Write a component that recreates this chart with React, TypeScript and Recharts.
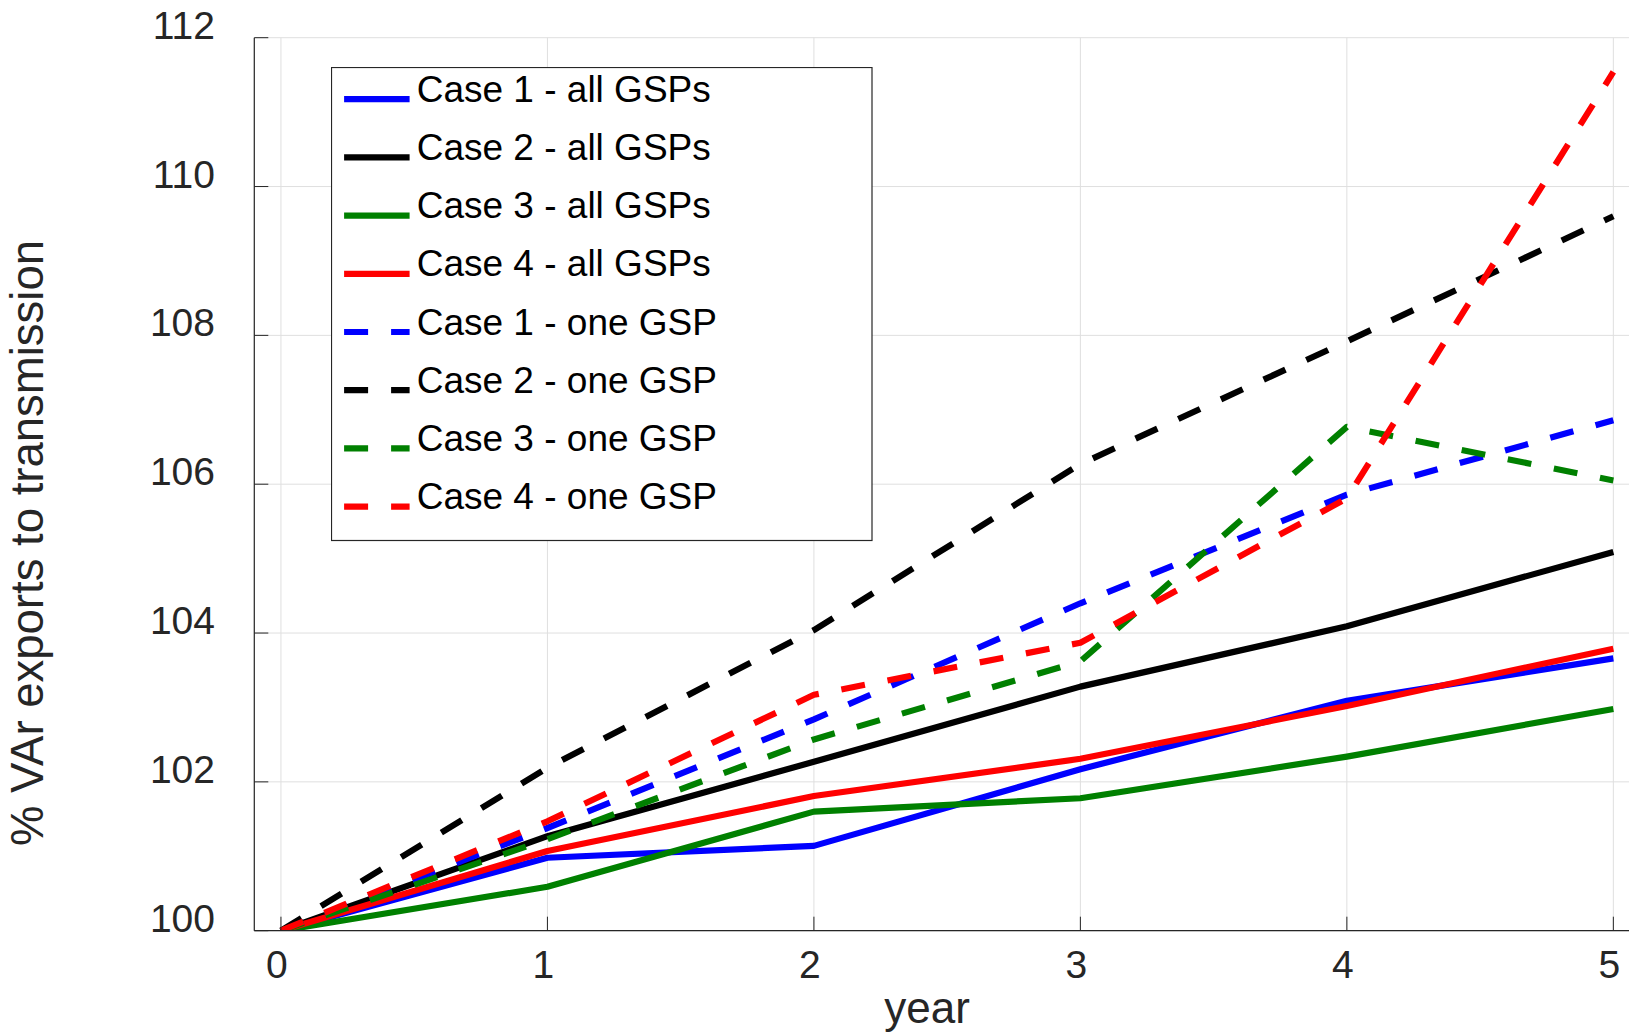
import React from 'react';
import { LineChart, Line, XAxis, YAxis, CartesianGrid, Legend, Label } from 'recharts';

const years = [0, 1, 2, 3, 4, 5];
const case1All = [100, 100.98, 101.14, 102.17, 103.09, 103.66];
const case2All = [100, 101.27, 102.27, 103.28, 104.09, 105.09];
const case3All = [100, 100.59, 101.6, 101.78, 102.34, 102.98];
const case4All = [100, 101.07, 101.81, 102.31, 103.02, 103.79];
const case1One = [100, 101.38, 102.84, 104.4, 105.86, 106.86];
const case2One = [100, 102.19, 104.04, 106.27, 107.92, 109.6];
const case3One = [100, 101.23, 102.57, 103.62, 106.77, 106.05];
const case4One = [100, 101.47, 103.17, 103.87, 105.81, 111.54];

const xTicks = [0, 1, 2, 3, 4, 5];
const yTicks = [100, 102, 104, 106, 108, 110, 112];
const xLabel = 'year';
const yLabel = '% VAr exports to transmission';

const FONT = '"Liberation Sans", Arial, Helvetica, sans-serif';
const AXIS = '#262626';

type Series = { key: string; name: string; color: string; dashed: boolean; values: number[] };

const series: Series[] = [
  { key: 'c1a', name: 'Case 1 - all GSPs', color: '#0000ff', dashed: false, values: case1All },
  { key: 'c2a', name: 'Case 2 - all GSPs', color: '#000000', dashed: false, values: case2All },
  { key: 'c3a', name: 'Case 3 - all GSPs', color: '#008000', dashed: false, values: case3All },
  { key: 'c4a', name: 'Case 4 - all GSPs', color: '#ff0000', dashed: false, values: case4All },
  { key: 'c1o', name: 'Case 1 - one GSP', color: '#0000ff', dashed: true, values: case1One },
  { key: 'c2o', name: 'Case 2 - one GSP', color: '#000000', dashed: true, values: case2One },
  { key: 'c3o', name: 'Case 3 - one GSP', color: '#008000', dashed: true, values: case3One },
  { key: 'c4o', name: 'Case 4 - one GSP', color: '#ff0000', dashed: true, values: case4One },
];

const data = years.map((yr, i) => {
  const row: Record<string, number> = { year: yr };
  series.forEach((s) => {
    row[s.key] = s.values[i];
  });
  return row;
});

const DASH = '24 23';
const LW = 6.2;

const BottomTick = (props: any) => {
  const { x, y, payload } = props;
  return (
    <g>
      <line x1={x} y1={y} x2={x} y2={y - 14} stroke={AXIS} strokeWidth={1} />
      <text x={x - 4} y={y + 47.6} textAnchor="middle" fontSize={39} fill={AXIS} fontFamily={FONT}>
        {payload.value}
      </text>
    </g>
  );
};

const TopTick = (props: any) => {
  const { x, y } = props;
  return <line x1={x} y1={y} x2={x} y2={y + 14} stroke={AXIS} strokeWidth={1} />;
};

const LeftTick = (props: any) => {
  const { x, y, payload } = props;
  return (
    <g>
      <line x1={x} y1={y} x2={x + 14} y2={y} stroke={AXIS} strokeWidth={1} />
      <text x={x - 39.3} y={y + 1} textAnchor="end" fontSize={39} fill={AXIS} fontFamily={FONT}>
        {payload.value}
      </text>
    </g>
  );
};

const RightTick = (props: any) => {
  const { x, y } = props;
  return <line x1={x - 14} y1={y} x2={x} y2={y} stroke={AXIS} strokeWidth={1} />;
};

const LegendBox = () => (
  <svg width={542} height={475} style={{ display: 'block' }}>
    <rect x={0.5} y={0.5} width={540.5} height={473} fill="#ffffff" stroke={AXIS} strokeWidth={1.2} />
    {series.map((s, i) => {
      const base = 34.7 + 58.2 * i;
      return (
        <g key={s.key}>
          <line
            x1={13.1}
            x2={78.6}
            y1={base - 2.5}
            y2={base - 2.5}
            stroke={s.color}
            strokeWidth={LW}
            strokeDasharray={s.dashed ? DASH : undefined}
          />
          <text x={85.7} y={base} fontSize={37} fontFamily={FONT} fill="#000000">
            {s.name}
          </text>
        </g>
      );
    })}
  </svg>
);

const XLabelContent = () => (
  <text x={927} y={1022.7} textAnchor="middle" fontSize={44} fill={AXIS} fontFamily={FONT}>
    {xLabel}
  </text>
);

const YLabelContent = () => (
  <text
    x={0}
    y={0}
    transform="translate(43, 543) rotate(-90)"
    textAnchor="middle"
    fontSize={45.5}
    fill={AXIS}
    fontFamily={FONT}
  >
    {yLabel}
  </text>
);

export default function App() {
  return (
    <div
      style={{
        position: 'absolute',
        left: 0,
        top: 0,
        width: 1629,
        height: 1034,
        overflow: 'hidden',
        background: '#ffffff',
      }}
    >
      <LineChart width={1660} height={1034} data={data} margin={{ top: 37.7, right: 20, bottom: 0, left: 0 }}>
        <CartesianGrid stroke="#dfdfdf" strokeWidth={1} />
        <XAxis
          dataKey="year"
          type="number"
          domain={[-0.1, 5.1]}
          ticks={xTicks}
          height={103.3}
          tickSize={0}
          tickMargin={0}
          tickLine={false}
          axisLine={{ stroke: AXIS, strokeWidth: 1.2 }}
          tick={<BottomTick />}
          interval={0}
          allowDataOverflow
        >
          <Label content={<XLabelContent />} />
        </XAxis>
        <XAxis
          xAxisId="top"
          orientation="top"
          dataKey="year"
          type="number"
          domain={[-0.1, 5.1]}
          ticks={xTicks}
          height={0}
          tickSize={0}
          tickMargin={0}
          tickLine={false}
          axisLine={{ stroke: AXIS, strokeWidth: 1.2 }}
          tick={<TopTick />}
          interval={0}
          allowDataOverflow
        />
        <YAxis
          type="number"
          domain={[100, 112]}
          ticks={yTicks}
          width={254.3}
          tickSize={0}
          tickMargin={0}
          tickLine={false}
          axisLine={{ stroke: AXIS, strokeWidth: 1.2 }}
          tick={<LeftTick />}
          interval={0}
          allowDataOverflow
        >
          <Label content={<YLabelContent />} />
        </YAxis>
        <YAxis
          yAxisId="right"
          orientation="right"
          type="number"
          domain={[100, 112]}
          ticks={yTicks}
          width={0}
          tickSize={0}
          tickMargin={0}
          tickLine={false}
          axisLine={{ stroke: AXIS, strokeWidth: 1.2 }}
          tick={<RightTick />}
          interval={0}
          allowDataOverflow
        />
        {series.map((s) => (
          <Line
            key={s.key}
            dataKey={s.key}
            name={s.name}
            type="linear"
            stroke={s.color}
            strokeWidth={LW}
            strokeDasharray={s.dashed ? DASH : undefined}
            strokeLinecap="butt"
            strokeLinejoin="round"
            dot={false}
            activeDot={false}
            isAnimationActive={false}
          />
        ))}
        <Legend
          layout="vertical"
          align="center"
          verticalAlign="middle"
          wrapperStyle={{ position: 'absolute', left: 330.9, top: 67.1, width: 542, height: 475 }}
          content={() => <LegendBox />}
        />
      </LineChart>
    </div>
  );
}
